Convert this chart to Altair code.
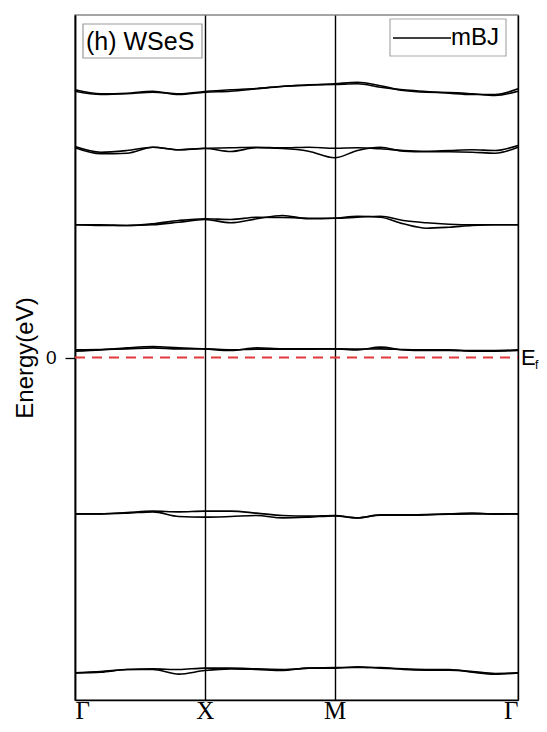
import altair as alt
import pandas as pd

# k-path positions (Γ=0, X=1, M=2, Γ=2+√2)
K = [0, 0.2, 0.4, 0.6, 0.8, 1.0, 1.2, 1.4, 1.6, 1.8, 2.0,
     2.177, 2.354, 2.530, 2.707, 2.884, 3.061, 3.237, 3.414]
TICK_K = [0, 1, 2, 3.414]
TICK_LABELS = ["Γ", "X", "M", "Γ"]

# band energies (eV), two nearly degenerate lines per band
b1a = [5.354, 5.274, 5.286, 5.326, 5.26, 5.306, 5.326, 5.374, 5.42, 5.454, 5.46, 5.474, 5.406, 5.354, 5.32, 5.286, 5.26, 5.26, 5.374]
b1b = [5.326, 5.26, 5.274, 5.306, 5.274, 5.32, 5.354, 5.38, 5.426, 5.446, 5.474, 5.506, 5.434, 5.34, 5.306, 5.30, 5.274, 5.24, 5.326]
b2a = [4.22, 4.106, 4.14, 4.206, 4.154, 4.186, 4.194, 4.206, 4.194, 4.206, 4.186, 4.194, 4.174, 4.14, 4.126, 4.14, 4.154, 4.14, 4.24]
b2b = [4.194, 4.074, 4.086, 4.206, 4.154, 4.18, 4.12, 4.194, 4.18, 4.126, 3.994, 4.14, 4.206, 4.126, 4.114, 4.114, 4.106, 4.086, 4.206]
b3a = [2.654, 2.64, 2.64, 2.674, 2.74, 2.774, 2.76, 2.806, 2.80, 2.786, 2.786, 2.806, 2.826, 2.74, 2.694, 2.666, 2.654, 2.654, 2.654]
b3b = [2.654, 2.654, 2.64, 2.654, 2.706, 2.76, 2.694, 2.774, 2.84, 2.774, 2.786, 2.826, 2.806, 2.674, 2.586, 2.606, 2.64, 2.654, 2.654]
b4a = [0.127, 0.153, 0.193, 0.22, 0.193, 0.173, 0.14, 0.193, 0.173, 0.173, 0.173, 0.153, 0.207, 0.153, 0.14, 0.14, 0.127, 0.127, 0.14]
b4b = [0.153, 0.16, 0.173, 0.193, 0.173, 0.173, 0.153, 0.167, 0.167, 0.167, 0.173, 0.167, 0.173, 0.16, 0.153, 0.153, 0.14, 0.14, 0.153]
b5a = [-3.127, -3.127, -3.10, -3.073, -3.087, -3.073, -3.073, -3.113, -3.16, -3.173, -3.16, -3.207, -3.147, -3.147, -3.14, -3.127, -3.113, -3.127, -3.127]
b5b = [-3.127, -3.127, -3.113, -3.087, -3.18, -3.193, -3.18, -3.16, -3.207, -3.193, -3.167, -3.207, -3.153, -3.153, -3.147, -3.133, -3.127, -3.133, -3.127]
b6a = [-6.307, -6.293, -6.24, -6.24, -6.333, -6.26, -6.227, -6.24, -6.26, -6.213, -6.213, -6.187, -6.213, -6.227, -6.24, -6.24, -6.293, -6.333, -6.307]
b6b = [-6.307, -6.28, -6.24, -6.227, -6.24, -6.213, -6.213, -6.227, -6.24, -6.213, -6.2, -6.2, -6.2, -6.24, -6.253, -6.253, -6.28, -6.32, -6.307]

Y_DOMAIN = [-6.85, 6.85]
K_MAX = 3.414
LEGEND_LABEL = "mBJ"
PANEL_LABEL = "(h) WSeS"

bands = {"b1a": b1a, "b1b": b1b, "b2a": b2a, "b2b": b2b, "b3a": b3a, "b3b": b3b,
         "b4a": b4a, "b4b": b4b, "b5a": b5a, "b5b": b5b, "b6a": b6a, "b6b": b6b}
rows = []
for name, vals in bands.items():
    for k, e in zip(K, vals):
        rows.append({"k": k, "E": e, "line": name})
df = pd.DataFrame(rows)

W, H = 443, 685

xscale = alt.Scale(domain=[0, K_MAX], nice=False, zero=False)
yscale = alt.Scale(domain=Y_DOMAIN, nice=False, zero=False)

label_expr = ("datum.value < 0.5 ? 'Γ' : datum.value < 1.5 ? 'X' : "
              "datum.value < 2.5 ? 'M' : 'Γ'")

bands_layer = alt.Chart(df).mark_line(strokeWidth=1.6, interpolate="monotone", color="black").encode(
    x=alt.X("k:Q", scale=xscale,
            axis=alt.Axis(values=TICK_K, labelExpr=label_expr, title=None,
                          labelFont="Liberation Serif", labelFontSize=25,
                          labelColor="black", labelFlush=True, tickSize=0,
                          labelBaseline="alphabetic", labelPadding=18,
                          grid=True, gridColor="black",
                          gridWidth=1.4, gridOpacity=1, domainColor="black",
                          domainWidth=1.6)),
    y=alt.Y("E:Q", scale=yscale,
            axis=alt.Axis(values=[0], title="Energy(eV)", grid=False,
                          labelFont="Liberation Sans", labelFontSize=19,
                          labelColor="black", tickSize=10, tickColor="black",
                          tickWidth=1.3,
                          labelPadding=9, domainColor="black", domainWidth=1.6,
                          titleFont="Liberation Sans", titleFontSize=24,
                          titleFontWeight="normal", titleColor="black",
                          titleX=-50, titleY=H / 2, titleAngle=270,
                          titleAlign="center", titleBaseline="middle")),
    detail="line:N",
    order="k:Q",
)

ef_df = pd.DataFrame({"k0": [0], "k1": [K_MAX], "E": [0]})
ef_line = alt.Chart(ef_df).mark_rule(color="#e0393e", strokeWidth=2, strokeDash=[10, 7]).encode(
    x="k0:Q", x2="k1:Q", y="E:Q")

ef_text = alt.Chart(ef_df).mark_text(text="E", align="left", baseline="middle", dx=3,
                                     font="Liberation Sans", fontSize=22, color="black").encode(
    x="k1:Q", y="E:Q")
ef_sub = alt.Chart(ef_df).mark_text(text="f", align="left", baseline="middle", dx=17, dy=7,
                                    font="Liberation Sans", fontSize=12, color="black").encode(
    x="k1:Q", y="E:Q")

panel_box = alt.Chart(ef_df).mark_rect(fill="white", stroke="#999999", strokeWidth=1.2).encode(
    x=alt.value(8), x2=alt.value(127), y=alt.value(9), y2=alt.value(43))
panel_text = alt.Chart(ef_df).mark_text(text=PANEL_LABEL, align="left", baseline="middle",
                                        font="Liberation Sans", fontSize=25, color="black").encode(
    x=alt.value(11), y=alt.value(27))

legend_box = alt.Chart(ef_df).mark_rect(fill="white", stroke="#aaaaaa", strokeWidth=1.2).encode(
    x=alt.value(315), x2=alt.value(431), y=alt.value(4), y2=alt.value(41))
legend_line = alt.Chart(ef_df).mark_rule(color="black", strokeWidth=1.6).encode(
    x=alt.value(318), x2=alt.value(376), y=alt.value(23))
legend_text = alt.Chart(ef_df).mark_text(text=LEGEND_LABEL, align="left", baseline="middle",
                                         font="Liberation Sans", fontSize=24, color="black").encode(
    x=alt.value(376), y=alt.value(23))

chart = alt.layer(ef_line, bands_layer, ef_text, ef_sub, panel_box, panel_text,
                  legend_box, legend_line, legend_text).properties(
    width=W, height=H,
    autosize=alt.AutoSizeParams(type="none"),
    padding={"left": 67, "top": 7, "right": 21, "bottom": 24},
).configure_view(stroke="#888888", strokeWidth=1.5)

chart.save("out.html", embed_options={"renderer": "svg", "actions": False})
